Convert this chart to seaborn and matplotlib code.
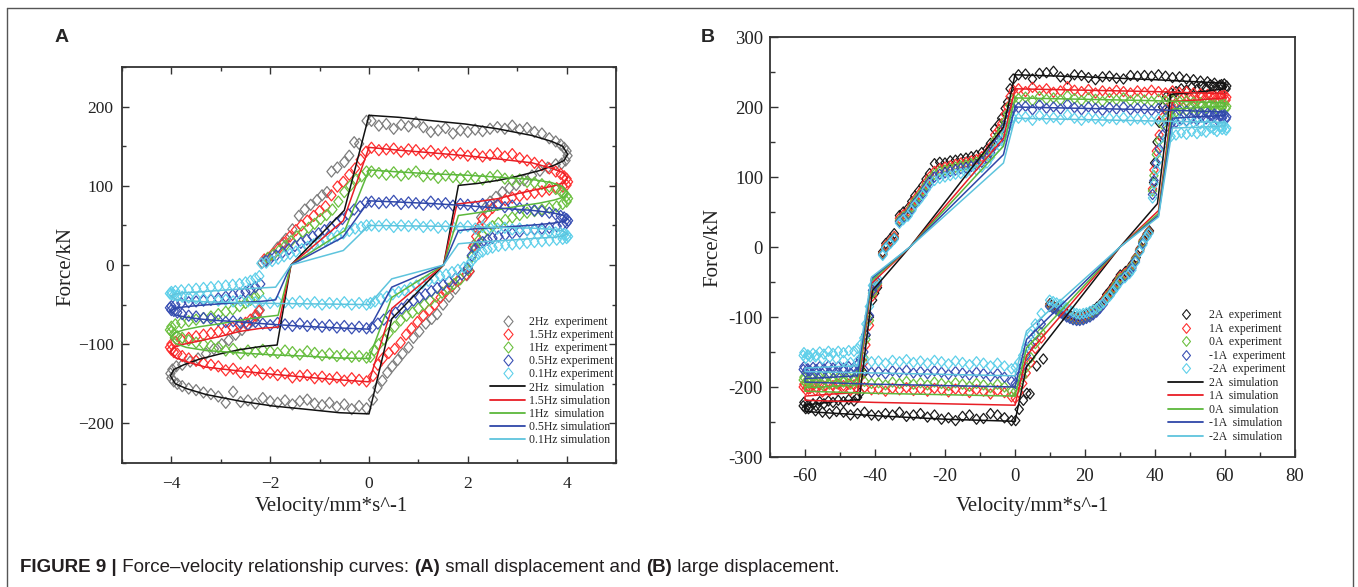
import matplotlib
matplotlib.use("Agg")
import matplotlib.pyplot as plt
import seaborn as sns
from matplotlib.path import Path
from matplotlib.lines import Line2D
from matplotlib.ticker import MultipleLocator, FuncFormatter
from matplotlib import font_manager

# ---------------- panel A data (small displacement) ----------------
a_labels_exp = ["2Hz  experiment", "1.5Hz experiment", "1Hz  experiment",
                "0.5Hz experiment", "0.1Hz experiment"]
a_labels_sim = ["2Hz  simulation", "1.5Hz simulation", "1Hz  simulation",
                "0.5Hz simulation", "0.1Hz simulation"]

a_top_v = [0.05, 0.2, 0.35, 0.5, 0.65, 0.8, 0.95, 1.1, 1.25, 1.4, 1.55, 1.7, 1.85, 2.0, 2.15,
           2.3, 2.45, 2.6, 2.75, 2.9, 3.05, 3.2, 3.35, 3.5, 3.65, 3.78, 3.88, 3.95, 4.0]
a_bot_v = [-0.05, -0.2, -0.35, -0.5, -0.65, -0.8, -0.95, -1.1, -1.25, -1.4, -1.55, -1.7, -1.85, -2.0,
           -2.15, -2.3, -2.45, -2.6, -2.75, -2.9, -3.05, -3.2, -3.35, -3.5, -3.65, -3.78, -3.88, -3.95, -4.0]

# 2Hz experiment
a2_top = [182, 176, 178, 172, 177, 175, 180, 174, 168, 170, 173, 166, 170, 168, 171, 169, 172, 174,
          172, 176, 171, 173, 168, 166, 160, 156, 152, 148, 144]
a2_rx = [4.02, 3.98, 3.9, 3.78, 3.62, 3.46, 3.3, 3.14, 2.98, 2.84, 2.7, 2.57, 2.45, 2.35, 2.27, 2.2,
         2.12, 2.04, 1.98, 1.75, 1.62, 1.5, 1.38, 1.27, 1.15, 1.02, 0.9, 0.8, 0.68, 0.58, 0.47, 0.37,
         0.27, 0.17, 0.08]
a2_ry = [138, 132, 128, 127, 123, 119, 113, 107, 101, 97, 92, 86, 80, 72, 60, 45, 25, -8, -13, -30,
         -40, -50, -62, -68, -74, -84, -92, -104, -112, -120, -128, -136, -146, -155, -170]
a2_bot = [-181, -178, -182, -176, -179, -174, -177, -175, -170, -172, -176, -171, -174, -172, -168,
          -175, -171, -173, -160, -174, -166, -163, -161, -158, -156, -153, -150, -147, -143]
a2_lx = [-4.02, -3.98, -3.9, -3.78, -3.62, -3.46, -3.3, -3.14, -2.98, -2.84, -2.7, -2.57, -2.45,
         -2.35, -2.27, -2.21, -2.16, -2.08, -1.95, -1.85, -1.76, -1.68, -1.55, -1.42, -1.3, -1.18,
         -1.05, -0.95, -0.85, -0.76, -0.64, -0.5, -0.4, -0.3, -0.2, -0.05]
a2_ly = [-137, -132, -128, -126, -122, -118, -112, -106, -100, -95, -88, -82, -76, -70, -64, -57, 3,
         5, 12, 22, 27, 33, 45, 62, 70, 76, 82, 88, 92, 118, 123, 130, 138, 155, 153, 182]

# 1.5Hz experiment
a15_top = [148, 145, 146, 147, 143, 146, 145, 141, 144, 140, 142, 139, 141, 138, 140, 137, 139, 141,
           137, 140, 135, 132, 129, 126, 122, 118, 115, 112, 109]
a15_rx = [4.03, 4.0, 3.92, 3.8, 3.65, 3.5, 3.35, 3.2, 3.05, 2.9, 2.76, 2.62, 2.5, 2.4, 2.3, 2.23,
          2.17, 2.1, 2.03, 1.97, 1.8, 1.68, 1.56, 1.45, 1.33, 1.22, 1.1, 0.98, 0.86, 0.75, 0.64,
          0.52, 0.4, 0.28, 0.18, 0.08]
a15_ry = [105, 101, 99, 97, 95, 93, 91, 89, 87, 85, 82, 77, 72, 66, 58, 48, 36, 22, -8, -12, -20,
          -27, -33, -41, -50, -57, -64, -72, -80, -88, -98, -106, -111, -118, -126, -140]
a15_bot = [-147, -145, -143, -146, -142, -144, -141, -143, -139, -140, -142, -137, -139, -136, -138,
           -133, -135, -136, -131, -133, -128, -126, -124, -121, -118, -115, -112, -110, -107]
a15_lx = [-4.03, -4.0, -3.92, -3.8, -3.65, -3.5, -3.35, -3.2, -3.05, -2.9, -2.76, -2.62, -2.5,
          -2.4, -2.3, -2.23, -2.12, -2.04, -1.95, -1.84, -1.72, -1.6, -1.48, -1.37, -1.25, -1.12,
          -1.0, -0.88, -0.76, -0.64, -0.52, -0.4, -0.28, -0.17, -0.06]
a15_ly = [-104, -100, -97, -94, -92, -90, -88, -86, -84, -82, -79, -76, -73, -69, -64, -58, 7, 9,
          14, 20, 28, 36, 44, 50, 56, 62, 68, 74, 88, 99, 105, 114, 122, 133, 143]

# 1Hz experiment
a1_top = [118, 116, 114, 117, 113, 115, 118, 112, 114, 110, 113, 111, 109, 112, 110, 108, 111, 113,
          109, 107, 108, 105, 104, 102, 99, 96, 93, 90, 87]
a1_rx = [4.03, 4.0, 3.92, 3.8, 3.65, 3.5, 3.35, 3.2, 3.05, 2.9, 2.76, 2.62, 2.5, 2.4, 2.3, 2.22,
         2.15, 2.08, 2.0, 1.85, 1.72, 1.6, 1.48, 1.36, 1.24, 1.12, 1.0, 0.88, 0.76, 0.64, 0.52, 0.4,
         0.3, 0.2, 0.1, 0.03]
a1_ry = [84, 80, 77, 74, 72, 70, 68, 66, 63, 60, 57, 53, 49, 44, 38, 31, 22, 10, -6, -18, -24, -30,
         -35, -40, -45, -50, -55, -60, -64, -70, -78, -86, -94, -100, -108, -116]
a1_bot = [-117, -115, -116, -113, -115, -112, -114, -111, -109, -113, -110, -108, -111, -109, -107,
          -110, -108, -112, -106, -108, -104, -102, -100, -98, -95, -92, -90, -87, -84]
a1_lx = [-4.03, -4.0, -3.92, -3.8, -3.65, -3.5, -3.35, -3.2, -3.05, -2.9, -2.76, -2.62, -2.5, -2.4,
         -2.3, -2.22, -2.05, -1.94, -1.82, -1.7, -1.58, -1.46, -1.34, -1.22, -1.1, -0.98, -0.86,
         -0.74, -0.62, -0.5, -0.38, -0.26, -0.15, -0.05]
a1_ly = [-82, -78, -75, -73, -71, -69, -67, -65, -62, -59, -56, -52, -48, -44, -40, -36, 9, 13, 18,
         24, 30, 36, 42, 47, 52, 58, 63, 70, 80, 92, 100, 108, 112, 118]

# 0.5Hz experiment
a05_top = [80, 78, 79, 81, 77, 79, 78, 76, 80, 77, 78, 75, 77, 76, 74, 77, 75, 76, 73, 75, 72, 71,
           69, 68, 66, 64, 62, 60, 58]
a05_rx = [4.03, 4.0, 3.92, 3.8, 3.65, 3.5, 3.35, 3.2, 3.05, 2.9, 2.76, 2.62, 2.5, 2.4, 2.3, 2.22,
          2.15, 2.08, 2.0, 1.88, 1.75, 1.62, 1.5, 1.38, 1.26, 1.14, 1.02, 0.9, 0.78, 0.66, 0.54,
          0.42, 0.3, 0.18, 0.06]
a05_ry = [56, 53, 51, 49, 47, 46, 45, 44, 42, 40, 38, 36, 34, 32, 29, 25, 20, 12, -4, -12, -17, -21,
          -25, -29, -33, -37, -41, -45, -50, -55, -60, -64, -69, -74, -79]
a05_bot = [-80, -78, -80, -77, -79, -76, -78, -75, -77, -74, -77, -75, -73, -76, -74, -72, -75, -73,
           -71, -72, -70, -68, -67, -65, -64, -62, -60, -58, -57]
a05_lx = [-4.03, -4.0, -3.92, -3.8, -3.65, -3.5, -3.35, -3.2, -3.05, -2.9, -2.76, -2.62, -2.5,
          -2.4, -2.3, -2.2, -2.1, -2.0, -1.88, -1.75, -1.62, -1.5, -1.38, -1.26, -1.14, -1.02,
          -0.9, -0.78, -0.66, -0.54, -0.42, -0.3, -0.18, -0.06]
a05_ly = [-54, -52, -50, -48, -47, -46, -45, -44, -42, -40, -38, -36, -34, -31, -28, -24, 5, 8, 12,
          16, 20, 24, 28, 32, 36, 40, 44, 48, 53, 58, 64, 70, 74, 79]

# 0.1Hz experiment
a01_top = [50, 49, 51, 48, 50, 49, 51, 48, 50, 47, 49, 48, 47, 49, 46, 48, 47, 46, 47, 45, 46, 44,
           44, 43, 42, 41, 40, 39, 38]
a01_rx = [4.03, 4.0, 3.92, 3.8, 3.65, 3.5, 3.35, 3.2, 3.05, 2.9, 2.76, 2.62, 2.5, 2.4, 2.3, 2.22,
          2.15, 2.08, 2.02, 1.92, 1.8, 1.68, 1.56, 1.44, 1.32, 1.2, 1.08, 0.96, 0.84, 0.72, 0.6,
          0.48, 0.36, 0.24, 0.12, 0.03]
a01_ry = [36, 34, 33, 32, 31, 30, 29, 28, 27, 26, 25, 24, 22, 20, 17, 14, 10, 5, 0, -3, -6, -9, -12,
          -14, -17, -20, -23, -26, -29, -32, -34, -37, -40, -43, -46, -48]
a01_bot = [-50, -48, -50, -47, -49, -48, -50, -47, -49, -46, -48, -47, -46, -48, -45, -47, -46, -45,
           -46, -44, -45, -43, -43, -42, -41, -40, -39, -38, -37]
a01_lx = [-4.03, -4.0, -3.92, -3.8, -3.65, -3.5, -3.35, -3.2, -3.05, -2.9, -2.76, -2.62, -2.5,
          -2.4, -2.3, -2.22, -2.18, -2.08, -1.96, -1.84, -1.72, -1.6, -1.48, -1.36, -1.24, -1.12,
          -1.0, -0.88, -0.76, -0.64, -0.52, -0.4, -0.28, -0.16, -0.05]
a01_ly = [-36, -34, -33, -32, -31, -30, -29, -28, -27, -26, -25, -24, -22, -20, -17, -14, 2, 3, 5,
          8, 11, 14, 17, 20, 23, 26, 29, 31, 34, 37, 40, 43, 46, 48, 50]

# simulation loops (panel A)
a2_sim_x = [0, 0.6, 1.3, 1.95, 2.6, 3.3, 3.7, 3.92, 4.02, 3.95, 3.75, 3.44, 3.0, 2.63, 2.2, 1.81,
            1.51, 0.46, 0, -0.6, -1.3, -1.95, -2.6, -3.3, -3.7, -3.92, -4.02, -3.95, -3.75, -3.44,
            -3.0, -2.63, -2.2, -1.86, -1.58, -0.5, 0]
a2_sim_y = [189, 186.5, 182, 178, 172, 163.5, 156, 150, 140, 132, 126, 119, 112, 107, 103, 100.5, 0,
            -68, -188, -186.5, -182, -178, -172, -163.5, -156, -150, -140, -132, -126, -119, -112,
            -107, -103, -101, 0, 69, 189]
a15_sim_x = [0, 0.6, 1.3, 1.95, 2.6, 3.3, 3.7, 3.92, 4.02, 3.95, 3.75, 3.44, 3.0, 2.63, 2.2, 1.78,
             1.51, 0.46, 0, -0.6, -1.3, -1.95, -2.6, -3.3, -3.7, -3.92, -4.02, -3.95, -3.75, -3.44,
             -3.0, -2.63, -2.2, -1.84, -1.58, -0.52, 0]
a15_sim_y = [148.5, 145, 141.5, 138, 134, 129, 122, 117, 110, 104, 100, 96, 90, 84, 80, 77, 0, -55,
             -147.5, -145, -141.5, -138, -134, -129, -122, -117, -110, -104, -100, -96, -90, -84,
             -80, -78.5, 0, 56, 148.5]
a1_sim_x = [0, 0.6, 1.3, 1.95, 2.6, 3.3, 3.7, 3.92, 4.02, 3.95, 3.75, 3.44, 3.0, 2.63, 2.2, 1.81,
            1.51, 0.46, 0, -0.6, -1.3, -1.95, -2.6, -3.3, -3.7, -3.92, -4.02, -3.95, -3.75, -3.44,
            -3.0, -2.63, -2.2, -1.84, -1.58, -0.49, 0]
a1_sim_y = [120, 117.5, 115, 113.5, 111, 108, 104, 99, 92, 86, 82, 78, 74, 70, 66, 62.5, 0, -41,
            -118, -117.5, -115, -113.5, -111, -108, -104, -99, -92, -86, -82, -78, -74, -70, -66,
            -63.5, 0, 43.5, 120]
a05_sim_x = [0, 0.6, 1.3, 1.95, 2.6, 3.3, 3.7, 3.92, 4.02, 3.95, 3.75, 3.44, 3.0, 2.63, 2.2, 1.81,
             1.51, 0.46, 0, -0.6, -1.3, -1.95, -2.6, -3.3, -3.7, -3.92, -4.02, -3.95, -3.75, -3.44,
             -3.0, -2.63, -2.2, -1.89, -1.58, -0.53, 0]
a05_sim_y = [81, 79.5, 77.5, 75, 72, 69, 66, 63, 58, 55, 53, 51, 49, 47.5, 46, 43.5, 0, -28, -81,
             -79.5, -77.5, -75, -72, -69, -66, -63, -58, -55, -53, -51, -49, -47.5, -46, -44, 0,
             35, 81]
a01_sim_x = [0, 0.6, 1.3, 1.95, 2.6, 3.3, 3.7, 3.92, 4.02, 3.95, 3.75, 3.44, 3.0, 2.63, 2.2, 1.81,
             1.51, 0.46, 0, -0.6, -1.3, -1.95, -2.6, -3.3, -3.7, -3.92, -4.02, -3.95, -3.75, -3.44,
             -3.0, -2.63, -2.2, -1.89, -1.58, -0.52, 0]
a01_sim_y = [50, 49.5, 49, 48.5, 47.5, 46.5, 45, 43, 39, 37, 35, 34, 32, 30.5, 29, 26.8, 0, -17.5,
             -50, -49.5, -49, -48.5, -47.5, -46.5, -45, -43, -39, -37, -35, -34, -32, -30.5, -29,
             -28, 0, 18.3, 50]

# ---------------- panel B data (large displacement) ----------------
b_labels_exp = ["2A  experiment", "1A  experiment", "0A  experiment", "-1A  experiment",
                "-2A  experiment"]
b_labels_sim = ["2A  simulation", "1A  simulation", "0A  simulation", "-1A  simulation",
                "-2A  simulation"]

b_top_v = [1, 3, 5, 7, 9, 11, 13, 15, 17, 19, 21, 23, 25, 27, 29, 31, 33, 35, 37, 39, 41, 43, 45,
           47, 49, 51, 53, 55, 57, 59]
b_bot_v = [-1, -3, -5, -7, -9, -11, -13, -15, -17, -19, -21, -23, -25, -27, -29, -31, -33, -35, -37,
           -39, -41, -43, -45, -47, -49, -51, -53, -55, -57, -59]
b_rx_2a = [60.5, 60.3, 59.8, 59.2, 58.5, 57.7, 56.8, 55.8, 54.6, 53.3, 52, 50.5, 49, 47.5, 46,
           44.6, 43.3, 42.2, 41.2, 40.6, 39.9, 39.6, 38.4, 37.8, 36.7, 35.8, 34.6, 33.6, 32.9, 31.6,
           30.1, 29.1, 28.2, 27.2, 26.2, 25.3, 24.3, 23.4, 22.4, 21.5, 20.5, 19.6, 18.6, 17.7, 16.7,
           15.8, 14.9, 13.9, 13, 12, 11, 10, 8.1, 6.2, 4.3, 3.4, 2.4, 1.2, 0.2]
b_rx = [60.5, 60.3, 59.8, 59.2, 58.5, 57.7, 56.8, 55.8, 54.6, 53.3, 52, 50.5, 49, 47.5, 46, 44.6,
        43.3, 42.2, 41.2, 40.4, 39.7, 39.3, 38.2, 37.6, 36.5, 35.6, 34.4, 33.4, 32.7, 31.4, 30, 29,
        28.1, 27.1, 26.1, 25.2, 24.2, 23.3, 22.3, 21.4, 20.4, 19.5, 18.5, 17.6, 16.6, 15.7, 14.8,
        13.8, 12.9, 11.9, 10.9, 9.9, 7.5, 5.8, 4.5, 3.2, 2.2, 1.1, 0.1]
b_lx = [-60.5, -60.3, -59.8, -59.2, -58.5, -57.7, -56.8, -55.8, -54.6, -53.3, -52, -50.5, -49,
        -47.5, -46, -45, -44.2, -43.2, -42.6, -41.6, -40.7, -40.1, -39.3, -37.8, -36.9, -35.6,
        -34.5, -33, -31.9, -30.6, -29.5, -28.6, -27.5, -26.3, -25.4, -24.4, -23, -21.5, -20,
        -18.5, -17, -15.5, -14, -12.5, -11, -9.5, -8, -7, -5.8, -4.5, -3.8, -2.8, -2.1, -1.4, -0.5]

# 2A
b2_top = [246, 247, 240, 248, 249, 251, 243, 240, 246, 245, 242, 239, 243, 244, 241, 240, 245, 244,
          245, 244, 246, 244, 242, 243, 240, 239, 237, 236, 234, 232]
b2_ry = [230, 226, 233, 228, 231, 226, 229, 232, 227, 230, 225, 228, 224, 226, 222, 220, 215, 200,
         178, 150, 120, 92, 23, 19, 10, -2, -15, -24, -29, -35, -40, -48, -55, -62, -68, -76, -82,
         -86, -90, -93, -96, -98, -100, -100, -99, -98, -96, -93, -90, -86, -84, -81, -160, -170,
         -210, -209, -219, -232, -248]
b2_bot = [-248, -244, -240, -238, -245, -246, -240, -242, -248, -244, -246, -240, -243, -238, -240,
          -242, -236, -240, -238, -241, -240, -236, -238, -240, -236, -235, -238, -236, -234, -231]
b2_ly = [-227, -222, -231, -226, -229, -224, -227, -221, -224, -220, -222, -219, -221, -218, -220,
         -215, -208, -180, -126, -100, -76, -66, -58, -7, 5, 12, 19, 45, 50, 55, 65, 73, 80, 88, 97,
         105, 119, 121, 120, 123, 124, 126, 127, 129, 131, 135, 140, 148, 168, 176, 184, 198, 207,
         226, 240]
# 1A
b1_top = [226, 222, 228, 224, 226, 221, 223, 229, 224, 222, 225, 220, 223, 221, 224, 222, 220, 223,
          221, 224, 222, 220, 223, 221, 222, 220, 219, 218, 217, 216]
b1_ry = [214, 210, 217, 212, 215, 210, 213, 216, 211, 214, 209, 212, 208, 210, 206, 203, 198, 185,
         160, 137, 110, 83, 22, 17, 8, -4, -17, -27, -32, -38, -43, -51, -58, -65, -71, -78, -84,
         -89, -93, -96, -99, -101, -103, -103, -102, -100, -98, -95, -92, -88, -86, -83, -130, -145,
         -165, -180, -195, -208, -216]
b1_bot = [-214, -208, -205, -210, -206, -204, -208, -205, -203, -207, -204, -202, -206, -203, -205,
          -201, -204, -202, -206, -203, -204, -201, -203, -205, -202, -204, -206, -207, -205, -203]
b1_ly = [-200, -196, -204, -199, -202, -197, -200, -196, -199, -195, -198, -196, -198, -196, -197,
         -193, -186, -165, -140, -112, -70, -62, -55, -9, 2, 9, 15, 41, 46, 51, 60, 68, 75, 83, 92,
         100, 108, 112, 114, 116, 118, 120, 121, 123, 125, 129, 135, 143, 160, 168, 176, 190, 200,
         215, 224]
# 0A
b0_top = [212, 214, 209, 215, 211, 213, 210, 216, 212, 209, 213, 211, 208, 212, 210, 213, 209, 211,
          210, 208, 211, 209, 210, 208, 209, 207, 206, 205, 204, 203]
b0_ry = [201, 198, 204, 199, 202, 197, 200, 203, 198, 201, 196, 199, 195, 197, 193, 190, 186, 175,
         152, 132, 102, 80, 21, 16, 7, -5, -18, -28, -34, -40, -45, -53, -60, -67, -73, -80, -86,
         -91, -95, -98, -101, -103, -104, -104, -103, -101, -99, -96, -93, -89, -87, -84, -122,
         -138, -158, -172, -185, -198, -206]
b0_bot = [-206, -200, -196, -201, -197, -195, -199, -196, -194, -198, -195, -193, -197, -194, -196,
          -192, -195, -193, -197, -194, -195, -192, -194, -196, -193, -195, -196, -197, -195, -193]
b0_ly = [-190, -186, -194, -189, -192, -187, -190, -186, -189, -185, -188, -186, -188, -186, -187,
         -183, -176, -158, -132, -105, -66, -58, -52, -10, 0, 7, 13, 38, 43, 48, 57, 65, 72, 80, 88,
         96, 104, 108, 110, 112, 114, 116, 117, 119, 121, 125, 131, 139, 152, 160, 168, 180, 190,
         202, 211]
# -1A
bm1_top = [199, 201, 196, 203, 198, 200, 197, 204, 199, 196, 200, 198, 195, 199, 197, 200, 196, 198,
           197, 195, 198, 196, 197, 195, 194, 193, 192, 191, 190, 188]
bm1_ry = [186, 183, 189, 184, 187, 182, 185, 188, 183, 186, 181, 184, 180, 182, 178, 176, 172, 160,
          140, 120, 95, 75, 20, 15, 5, -6, -20, -30, -36, -42, -48, -56, -62, -69, -75, -82, -88,
          -93, -97, -100, -102, -104, -105, -105, -104, -102, -100, -97, -94, -90, -88, -85, -110,
          -125, -140, -155, -170, -185, -195]
bm1_bot = [-192, -186, -181, -185, -181, -179, -183, -180, -178, -182, -179, -177, -181, -178, -180,
           -176, -179, -177, -181, -178, -179, -176, -178, -180, -177, -178, -180, -181, -179, -177]
bm1_ly = [-175, -171, -179, -174, -177, -172, -175, -171, -174, -170, -173, -171, -173, -171, -172,
          -168, -160, -150, -125, -98, -62, -55, -50, -11, -1, 6, 12, 36, 41, 46, 54, 62, 69, 77,
          85, 93, 100, 104, 106, 108, 110, 112, 113, 115, 117, 121, 127, 135, 145, 152, 160, 172,
          180, 190, 198]
# -2A
bm2_top = [184, 186, 181, 188, 183, 185, 182, 189, 184, 181, 185, 183, 180, 184, 182, 185, 181, 183,
           182, 180, 183, 181, 182, 180, 179, 178, 176, 175, 174, 172]
bm2_ry = [170, 167, 173, 168, 171, 165, 168, 170, 164, 166, 162, 165, 161, 163, 160, 158, 156, 145,
          125, 110, 90, 70, 19, 14, 3, -7, -22, -33, -38, -44, -50, -57, -63, -70, -75, -80, -84,
          -88, -90, -92, -94, -95, -96, -95, -93, -90, -87, -84, -82, -80, -78, -76, -95, -110,
          -125, -143, -155, -165, -172]
bm2_bot = [-174, -170, -166, -170, -166, -164, -168, -165, -163, -167, -164, -162, -166, -163, -165,
           -161, -164, -162, -166, -163, -164, -161, -163, -165, -162, -160, -158, -160, -157, -155]
bm2_ly = [-155, -151, -159, -154, -157, -152, -155, -150, -153, -149, -152, -149, -151, -148, -149,
          -145, -140, -130, -110, -85, -55, -48, -45, -12, -2, 5, 11, 34, 39, 44, 52, 60, 66, 74, 82,
          89, 95, 98, 100, 102, 104, 105, 106, 108, 110, 114, 120, 128, 138, 145, 152, 162, 170,
          178, 184]

# simulation loops (panel B)
b2_sim_x = [0, 20, 40, 60, 60, 52, 44.5, 40.7, 30, 3.3, 0, -20, -40, -60, -60, -52, -44.5, -40.7,
            -30, -3.3, 0]
b2_sim_y = [246, 243, 239, 234, 226, 221, 218, 62, 0, -171, -249, -246, -241, -235, -226, -221,
            -218, -62, 0, 171, 246]
b_sim_x = [0, 20, 40, 60, 60, 52, 45, 41, 30, 3.3, 0, -20, -40, -60, -60, -52, -45, -41, -30, -3.3, 0]
b1_sim_y = [226, 224, 222, 219, 213, 210, 208, 52, 0, -155, -226, -224, -222, -219, -213, -210,
            -208, -52, 0, 155, 226]
b0_sim_y = [213, 211, 209, 206, 201, 199, 197, 48, 0, -144, -213, -211, -209, -206, -201, -199,
            -197, -48, 0, 144, 213]
bm1_sim_y = [200, 198, 196, 193, 188, 186, 184, 45, 0, -132, -200, -198, -196, -193, -188, -186,
             -184, -45, 0, 132, 200]
bm2_sim_y = [184, 182, 180, 178, 173, 171, 170, 43, 0, -120, -184, -182, -180, -178, -173, -171,
             -170, -43, 0, 120, 184]

# ---------------- styling ----------------
exp_colors_a = ["#7d7d7d", "#ff3030", "#6cc040", "#3a50b4", "#5fd0ea"]
exp_colors_b = ["#1a1a1a", "#ff3030", "#6cc040", "#3a50b4", "#5fd0ea"]
sim_colors = ["#111111", "#e81e25", "#5cb83c", "#2f47a8", "#5ec4dd"]

sns.set_style("ticks")
plt.rcParams["font.family"] = ["Liberation Serif", "DejaVu Serif"]

diamond = Path([(0, 1), (0.82, 0), (0, -1), (-0.82, 0), (0, 1)],
               [Path.MOVETO, Path.LINETO, Path.LINETO, Path.LINETO, Path.CLOSEPOLY])


def draw_exp(ax, x, y, color, size):
    sns.scatterplot(x=x, y=y, ax=ax, marker=diamond, s=size, color=color, facecolor="none",
                    edgecolor=color, linewidth=0.9, legend=False, zorder=2)


def draw_sim(ax, x, y, color):
    sns.lineplot(x=x, y=y, ax=ax, sort=False, estimator=None, color=color, lw=1.1,
                 legend=False, zorder=3)


def legend_handles(exp_colors, ms):
    hs = [Line2D([], [], marker=diamond, ls="none", mfc="none", mec=c, mew=0.8, ms=ms)
          for c in exp_colors]
    hs += [Line2D([], [], color=c, lw=1.3) for c in sim_colors]
    return hs


fig = plt.figure(figsize=(13.58, 5.87), dpi=100)
W, H = 1358, 587
axA = fig.add_axes([122 / W, 1 - 463 / H, 494 / W, 396 / H])
axB = fig.add_axes([770 / W, 1 - 457 / H, 525 / W, 420 / H])

# panel A
a_exp = [
    (a_top_v + a2_rx + a_bot_v + a2_lx, a2_top + a2_ry + a2_bot + a2_ly),
    (a_top_v + a15_rx + a_bot_v + a15_lx, a15_top + a15_ry + a15_bot + a15_ly),
    (a_top_v + a1_rx + a_bot_v + a1_lx, a1_top + a1_ry + a1_bot + a1_ly),
    (a_top_v + a05_rx + a_bot_v + a05_lx, a05_top + a05_ry + a05_bot + a05_ly),
    (a_top_v + a01_rx + a_bot_v + a01_lx, a01_top + a01_ry + a01_bot + a01_ly),
]
a_sim = [(a2_sim_x, a2_sim_y), (a15_sim_x, a15_sim_y), (a1_sim_x, a1_sim_y),
         (a05_sim_x, a05_sim_y), (a01_sim_x, a01_sim_y)]
for (x, y), c in zip(a_exp, exp_colors_a):
    draw_exp(axA, x, y, c, 64)
for (x, y), c in zip(a_sim, sim_colors):
    draw_sim(axA, x, y, c)

axA.set_xlim(-5, 5)
axA.set_ylim(-250, 250)
axA.set_xticks([-4, -2, 0, 2, 4])
axA.set_yticks([-200, -100, 0, 100, 200])
axA.xaxis.set_minor_locator(MultipleLocator(1))
axA.yaxis.set_minor_locator(MultipleLocator(50))
axA.tick_params(which="both", direction="in", top=True, right=True, width=1, color="#333333",
                labelsize=12.5, labelcolor="#222222")
axA.tick_params(which="major", length=5)
axA.tick_params(which="minor", length=3)
axA.tick_params(axis="x", pad=9)
axA.tick_params(axis="y", pad=6)
for s in axA.spines.values():
    s.set_linewidth(1.3)
    s.set_color("#333333")

xl = axA.set_xlabel("Velocity/mm*s^-1", fontsize=15, color="#222222")
axA.xaxis.set_label_coords(0.4245, -0.111)
xl.set_va("center")
yl = axA.set_ylabel("Force/kN", fontsize=15, color="#222222")
axA.yaxis.set_label_coords(-0.113, 0.495)
yl.set_va("center")

axA.legend(legend_handles(exp_colors_a, 8), a_labels_exp + a_labels_sim, loc="upper left",
           bbox_to_anchor=(0.745, 0.372), frameon=False, fontsize=8.5, handlelength=3.0,
           handletextpad=0.3, labelspacing=0.1, borderpad=0, borderaxespad=0)

# panel B
b_exp = [
    (b_top_v + b_rx_2a + b_bot_v + b_lx, b2_top + b2_ry + b2_bot + b2_ly),
    (b_top_v + b_rx + b_bot_v + b_lx, b1_top + b1_ry + b1_bot + b1_ly),
    (b_top_v + b_rx + b_bot_v + b_lx, b0_top + b0_ry + b0_bot + b0_ly),
    (b_top_v + b_rx + b_bot_v + b_lx, bm1_top + bm1_ry + bm1_bot + bm1_ly),
    (b_top_v + b_rx + b_bot_v + b_lx, bm2_top + bm2_ry + bm2_bot + bm2_ly),
]
b_sim = [(b2_sim_x, b2_sim_y), (b_sim_x, b1_sim_y), (b_sim_x, b0_sim_y),
         (b_sim_x, bm1_sim_y), (b_sim_x, bm2_sim_y)]
for (x, y), c in zip(b_exp, exp_colors_b):
    draw_exp(axB, x, y, c, 54)
for (x, y), c in zip(b_sim, sim_colors):
    draw_sim(axB, x, y, c)

axB.set_xlim(-70, 80)
axB.set_ylim(-300, 300)
axB.set_xticks([-60, -40, -20, 0, 20, 40, 60, 80])
axB.set_yticks([-300, -200, -100, 0, 100, 200, 300])
axB.xaxis.set_minor_locator(MultipleLocator(10))
axB.yaxis.set_minor_locator(MultipleLocator(50))
axB.xaxis.set_major_formatter(FuncFormatter(lambda v, p: f"{v:.0f}"))
axB.yaxis.set_major_formatter(FuncFormatter(lambda v, p: f"{v:.0f}"))
axB.tick_params(which="both", direction="in", top=False, right=False, width=1, color="#333333",
                labelsize=13.5, labelcolor="#222222")
axB.tick_params(which="major", length=6)
axB.tick_params(which="minor", length=3.5)
axB.tick_params(axis="x", pad=8)
axB.tick_params(axis="y", pad=5)
for s in axB.spines.values():
    s.set_linewidth(1.3)
    s.set_color("#333333")

xl = axB.set_xlabel("Velocity/mm*s^-1", fontsize=15, color="#222222")
axB.xaxis.set_label_coords(0.5, -0.119)
xl.set_va("center")
yl = axB.set_ylabel("Force/kN", fontsize=15, color="#222222")
axB.yaxis.set_label_coords(-0.109, 0.498)
yl.set_va("center")

axB.legend(legend_handles(exp_colors_b, 7), b_labels_exp + b_labels_sim, loc="upper left",
           bbox_to_anchor=(0.758, 0.352), frameon=False, fontsize=8.5, handlelength=3.0,
           handletextpad=0.5, labelspacing=0.13, borderpad=0, borderaxespad=0)

# panel letters and frame
fig.text(62 / W, 1 - 37 / H, "A", fontsize=14, fontweight="bold", ha="center", va="center",
         family=["Liberation Sans", "DejaVu Sans"])
fig.text(708 / W, 1 - 37 / H, "B", fontsize=14, fontweight="bold", ha="center", va="center",
         family=["Liberation Sans", "DejaVu Sans"])

frame = dict(color="#555555", lw=1.0, transform=fig.transFigure)
fig.add_artist(Line2D([7 / W, 7 / W], [0, 1 - 8 / H], **frame))
fig.add_artist(Line2D([7 / W, 1353 / W], [1 - 8 / H, 1 - 8 / H], **frame))
fig.add_artist(Line2D([1353 / W, 1353 / W], [0, 1 - 8 / H], **frame))

# caption with mixed weights
try:
    font_manager.findfont("Liberation Sans Narrow", fallback_to_default=False)
    cap_font = "Liberation Sans Narrow"
except ValueError:
    cap_font = "Liberation Sans"

cap_parts = [("FIGURE 9 |", True), (" Force\u2013velocity relationship curves: ", False),
             ("(A)", True), (" small displacement and ", False), ("(B)", True),
             (" large displacement.", False)]
renderer = fig.canvas.get_renderer()
cx = 20 / W
for txt, bold in cap_parts:
    t = fig.text(cx, 1 - 567 / H, txt, fontsize=13.5, family=cap_font,
                 fontweight="bold" if bold else "normal", ha="left", va="center", color="#231f20")
    cx += t.get_window_extent(renderer=renderer).width / fig.bbox.width

fig.savefig("out.png", dpi=100)
